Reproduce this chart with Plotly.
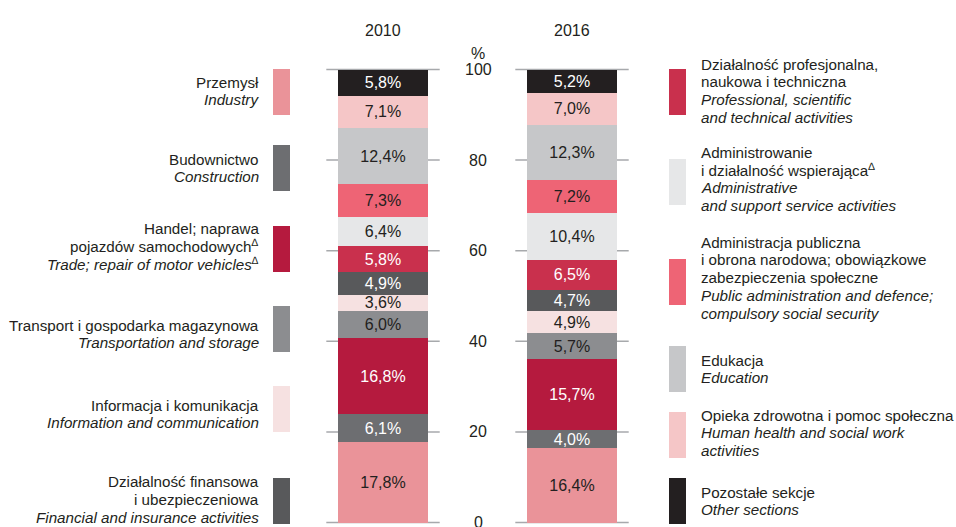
import plotly.graph_objects as go

# ---- data ----
years = ["2010", "2016"]
sectors_pl = [
    "Przemysł", "Budownictwo", "Handel; naprawa<br>pojazdów samochodowych<sup>∆</sup>",
    "Transport i gospodarka magazynowa", "Informacja i komunikacja",
    "Działalność finansowa<br>i ubezpieczeniowa",
    "Działalność profesjonalna,<br>naukowa i techniczna",
    "Administrowanie<br>i działalność wspierająca<sup>∆</sup>",
    "Administracja publiczna<br>i obrona narodowa; obowiązkowe<br>zabezpieczenia społeczne",
    "Edukacja", "Opieka zdrowotna i pomoc społeczna", "Pozostałe sekcje",
]
sectors_en = [
    "Industry", "Construction", "Trade; repair of motor vehicles<sup>∆</sup>",
    "Transportation and storage", "Information and communication",
    "Financial and insurance activities",
    "Professional, scientific<br>and technical activities",
    "Administrative<br>and support service activities",
    "Public administration and defence;<br>compulsory social security",
    "Education", "Human health and social work<br>activities", "Other sections",
]
values_2010 = [17.8, 6.1, 16.8, 6.0, 3.6, 4.9, 5.8, 6.4, 7.3, 12.4, 7.1, 5.8]
values_2016 = [16.4, 4.0, 15.7, 5.7, 4.9, 4.7, 6.5, 10.4, 7.2, 12.3, 7.0, 5.2]
y_ticks = [0, 20, 40, 60, 80, 100]

# ---- styles ----
colors = ["#EA9399", "#6D6E71", "#B51A3E", "#8C8D90", "#F6E1E1", "#58595B",
          "#C9304D", "#E6E7E8", "#EE6475", "#C6C7C9", "#F5C6C7", "#231F20"]
text_colors = ["#231F20", "#FFFFFF", "#FFFFFF", "#231F20", "#231F20", "#FFFFFF",
               "#FFFFFF", "#231F20", "#231F20", "#231F20", "#231F20", "#FFFFFF"]
FONT = "Liberation Sans, Arial, sans-serif"
FS = 15.2
NFS = 16
DARK = "#231F20"
W, H = 956, 527

# legend layout (pixel positions): side, rect top, first text line y
legend_side = ["L", "L", "L", "L", "L", "L", "R", "R", "R", "R", "R", "R"]
rect_top = [69, 145, 226, 306, 386, 478, 69, 159, 259, 346, 412, 478]
first_line = [82, 159, 228, 325, 405, 482, 64, 152, 242, 360, 415, 492]
LINE_H = 17.8
RECT_H = 46

fig = go.Figure()
for i in range(len(sectors_pl)):
    fig.add_trace(go.Bar(
        x=years, y=[values_2010[i], values_2016[i]],
        width=0.48,
        marker=dict(color=colors[i], line=dict(width=0)),
        texttemplate="%{y:.1f}%", textposition="inside",
        insidetextanchor="middle", textangle=0,
        insidetextfont=dict(color=text_colors[i], size=NFS, family=FONT),
        name=sectors_en[i], showlegend=False, hoverinfo="skip",
    ))

shapes = []
annotations = []
for xi in range(len(years)):
    for t in y_ticks:
        shapes.append(dict(type="line", xref="x", yref="y", x0=xi - 0.3, x1=xi + 0.3,
                           y0=t, y1=t, layer="below",
                           line=dict(color="#A7A9AC", width=1.5)))
    annotations.append(dict(text=years[xi], xref="x", yref="paper", x=xi, y=1 - 20 / H,
                            showarrow=False, font=dict(size=NFS, family=FONT, color=DARK)))
for t in y_ticks:
    annotations.append(dict(text=str(t), xref="paper", yref="y", x=0.5, y=t,
                            showarrow=False, font=dict(size=NFS, family=FONT, color=DARK)))
annotations.append(dict(text="%", xref="paper", yref="paper", x=0.5, y=1 - 43 / H,
                        showarrow=False, font=dict(size=NFS, family=FONT, color=DARK)))

for i in range(len(sectors_pl)):
    left = legend_side[i] == "L"
    rx0 = 273 if left else 669
    shapes.append(dict(type="rect", xref="paper", yref="paper",
                       x0=rx0 / W, x1=(rx0 + 17) / W,
                       y0=1 - (rect_top[i] + RECT_H) / H, y1=1 - rect_top[i] / H,
                       fillcolor=colors[i], line=dict(width=0)))
    lines = sectors_pl[i].split("<br>") + ["<i>" + s + "</i>" for s in sectors_en[i].split("<br>")]
    for k, ln in enumerate(lines):
        y = first_line[i] + k * LINE_H
        annotations.append(dict(
            text=ln, xref="paper", yref="paper",
            x=(261 if left else 699) / W, y=1 - y / H,
            xanchor="right" if left else "left", yanchor="middle",
            showarrow=False, font=dict(size=FS, family=FONT, color=DARK)))

fig.update_layout(
    width=W, height=H, barmode="stack",
    margin=dict(l=0, r=0, t=0, b=0, pad=0),
    paper_bgcolor="white", plot_bgcolor="white",
    separators=", ",
    uniformtext=dict(minsize=NFS, mode="show"),
    xaxis=dict(type="category", range=[-2.0265, 3.0317], visible=False, fixedrange=True),
    yaxis=dict(range=[-0.994, 115.342], visible=False, fixedrange=True),
    shapes=shapes, annotations=annotations,
    font=dict(family=FONT, size=FS, color=DARK),
)

fig.write_html("out.html", config={"displayModeBar": False},
               post_script="document.body.style.margin='0';document.body.style.padding='0';")
